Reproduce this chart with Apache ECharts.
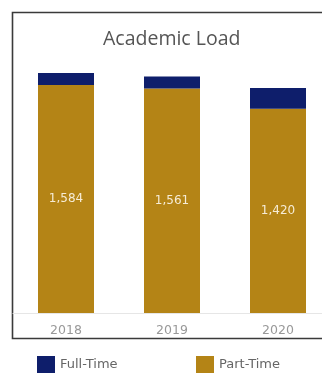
<!DOCTYPE html>
<html><head><meta charset="utf-8">
<script src="https://cdn.jsdelivr.net/npm/echarts@6/dist/echarts.min.js"></script>
<style>html,body{margin:0;padding:0;background:#fff;overflow:hidden}#c{width:322px;height:373px}</style>
</head><body><div id="c"></div>
<script>
var categories = ['2018', '2019', '2020'];
var partTime = [1584, 1561, 1420];
var fullTime = [84, 83, 143];
var seriesNames = ['Full-Time', 'Part-Time'];

var chart = echarts.init(document.getElementById('c'), null, {renderer: 'canvas'});
chart.setOption({
  animation: false,
  backgroundColor: '#fff',
  title: {
    text: 'Academic Load', left: 98, top: 24,
    textStyle: {fontFamily: 'Open Sans', fontWeight: 'normal', fontSize: 19.5, color: '#555'}
  },
  graphic: [{
    type: 'rect', shape: {x: 12.5, y: 12.5, width: 330, height: 326},
    style: {fill: 'none', stroke: '#3a3a3a', lineWidth: 1.6}, silent: true
  }],
  legend: [
    {data: [seriesNames[0]], left: 32, top: 351, itemWidth: 18, itemHeight: 18, icon: 'rect', itemGap: 0,
     textStyle: {fontFamily: 'DejaVu Sans', fontSize: 13, color: '#666'}},
    {data: [seriesNames[1]], left: 191, top: 351, itemWidth: 18, itemHeight: 18, icon: 'rect', itemGap: 0,
     textStyle: {fontFamily: 'DejaVu Sans', fontSize: 13, color: '#666'}}
  ],
  grid: {left: 13, width: 318, top: 54, height: 259, containLabel: false, outerBoundsMode: 'none'},
  xAxis: {
    type: 'category', data: categories,
    axisLine: {show: true, lineStyle: {color: '#e6e6e6', width: 1}},
    axisTick: {show: false},
    axisLabel: {margin: 11, fontFamily: 'DejaVu Sans', fontSize: 12.5, color: '#999'}
  },
  yAxis: {type: 'value', min: 0, max: 1800, show: false, splitLine: {show: false}},
  series: [
    {name: seriesNames[1], type: 'bar', stack: 'a', data: partTime, barWidth: 56,
     itemStyle: {color: '#b48416'},
     label: {show: true, position: 'inside', color: '#f6ecd6', fontFamily: 'DejaVu Sans', fontSize: 12,
       formatter: function (p) { return p.value.toLocaleString('en-US'); }}},
    {name: seriesNames[0], type: 'bar', stack: 'a', data: fullTime, barWidth: 56,
     itemStyle: {color: '#0e1e6b'}}
  ]
});
</script></body></html>
